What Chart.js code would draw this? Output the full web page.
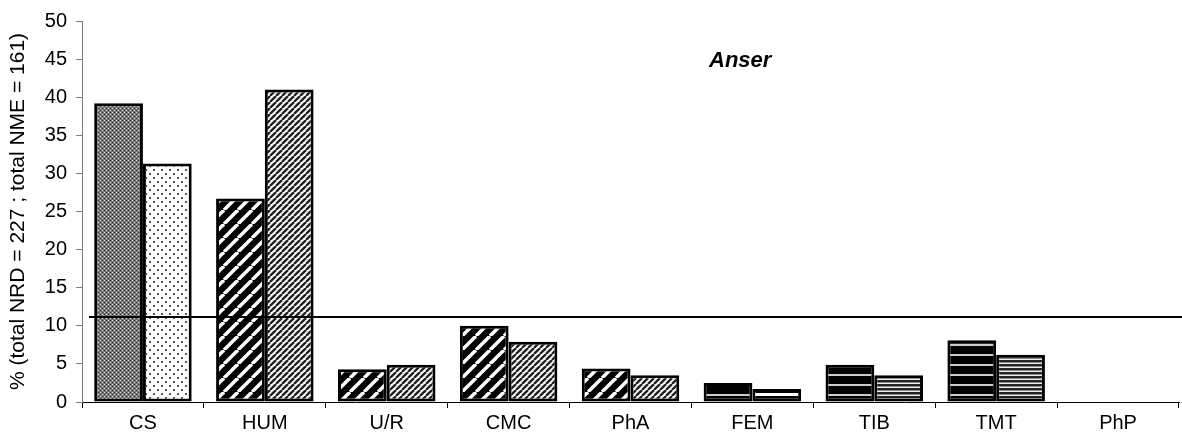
<!DOCTYPE html>
<html>
<head>
<meta charset="utf-8">
<script src="https://cdn.jsdelivr.net/npm/chart.js@4"></script>
<style>
  body { margin: 0; background: #fff; }
  #wrap { width: 1182px; height: 443px; position: relative; }
</style>
</head>
<body>
<div id="wrap"><canvas id="chart"></canvas></div>
<script>
const categories = ["CS", "HUM", "U/R", "CMC", "PhA", "FEM", "TIB", "TMT", "PhP"];
const nrdValues = [39.2, 26.7, 4.3, 10.0, 4.4, 2.5, 4.9, 8.1, 0];
const nmeValues = [31.3, 41.0, 4.9, 7.9, 3.5, 1.7, 3.5, 6.2, 0];
const refLine = 100 / 9;
const yTitle = "% (total NRD = 227 ; total NME = 161)";
const plotTitle = "Anser";

const FONT = "'Liberation Sans', Arial, sans-serif";

// small tiles for the hatch fills
function tile(w, h, draw) {
  const c = document.createElement("canvas");
  c.width = w;
  c.height = h;
  const g = c.getContext("2d");
  draw(g, w, h);
  return g.createPattern(c, "repeat");
}

const grayCheck = tile(4, 4, (g) => {
  g.fillStyle = "#777";
  g.fillRect(0, 0, 4, 4);
  g.fillStyle = "#ddd";
  g.fillRect(0, 0, 1, 1);
  g.fillRect(2, 2, 1, 1);
  g.fillStyle = "#333";
  g.fillRect(2, 0, 1, 1);
  g.fillRect(0, 2, 1, 1);
});

const sparseDots = tile(8, 8, (g) => {
  g.fillStyle = "#fff";
  g.fillRect(0, 0, 8, 8);
  g.fillStyle = "#555";
  g.fillRect(1, 1, 2, 2);
  g.fillRect(5, 5, 2, 2);
});

function diag(size, bg, fg, lw) {
  return tile(size, size, (g, w, h) => {
    g.fillStyle = bg;
    g.fillRect(0, 0, w, h);
    g.strokeStyle = fg;
    g.lineWidth = lw;
    for (const o of [-size, 0, size]) {
      g.beginPath();
      g.moveTo(o, size);
      g.lineTo(o + size, 0);
      g.stroke();
    }
  });
}

const diagWide = diag(14, "#000", "#fff", 3.5);
const diagNarrow = diag(6, "#fff", "#222", 2.4);

const horizBlack = tile(1, 10, (g) => {
  g.fillStyle = "#000";
  g.fillRect(0, 0, 1, 10);
  g.fillStyle = "#ccc";
  g.fillRect(0, 4, 1, 2);
});

const horizBW = tile(1, 6, (g) => {
  g.fillStyle = "#000";
  g.fillRect(0, 0, 1, 3);
  g.fillStyle = "#fff";
  g.fillRect(0, 3, 1, 3);
});

const horizDense = tile(1, 4, (g) => {
  g.fillStyle = "#222";
  g.fillRect(0, 0, 1, 2);
  g.fillStyle = "#888";
  g.fillRect(0, 2, 1, 1);
  g.fillStyle = "#eee";
  g.fillRect(0, 3, 1, 1);
});

const nrdFill = [grayCheck, diagWide, diagWide, diagWide, diagWide, horizBlack, horizBlack, horizBlack, horizBlack];
const nmeFill = [sparseDots, diagNarrow, diagNarrow, diagNarrow, diagNarrow, horizBW, horizDense, horizDense, horizDense];

const refLinePlugin = {
  id: "refLine",
  afterDatasetsDraw(chart) {
    const { ctx, chartArea } = chart;
    const y = Math.round(chart.scales.y.getPixelForValue(refLine));
    ctx.save();
    ctx.strokeStyle = "#000";
    ctx.lineWidth = 2;
    ctx.beginPath();
    ctx.moveTo(chartArea.left + 7, y);
    ctx.lineTo(chart.width, y);
    ctx.stroke();
    ctx.restore();
  }
};

const innerTitle = {
  id: "innerTitle",
  afterDraw(chart) {
    const { ctx, chartArea } = chart;
    ctx.save();
    ctx.font = "italic bold 22px " + FONT;
    ctx.fillStyle = "#000";
    ctx.textAlign = "center";
    ctx.textBaseline = "middle";
    ctx.fillText(plotTitle, chartArea.left + chartArea.width * 0.6, chartArea.top + 40);
    ctx.restore();
  }
};

new Chart(document.getElementById("chart"), {
  type: "bar",
  data: {
    labels: categories,
    datasets: [
      {
        label: "NRD",
        data: nrdValues,
        backgroundColor: nrdFill,
        borderColor: "#000",
        borderWidth: 3,
        borderSkipped: false
      },
      {
        label: "NME",
        data: nmeValues,
        backgroundColor: nmeFill,
        borderColor: "#000",
        borderWidth: 3,
        borderSkipped: false
      }
    ]
  },
  options: {
    responsive: true,
    maintainAspectRatio: false,
    animation: false,
    datasets: {
      bar: { categoryPercentage: 0.8, barPercentage: 1.0 }
    },
    layout: { padding: { top: 20, right: 3, left: 0, bottom: 0 } },
    plugins: {
      legend: { display: false },
      tooltip: { enabled: false }
    },
    scales: {
      x: {
        grid: { drawOnChartArea: false, drawTicks: true, tickLength: 6, color: "#000", offset: true },
        border: { color: "#000", width: 1 },
        ticks: { color: "#000", font: { family: FONT, size: 20 }, padding: 3, maxRotation: 0 },
        afterFit(scale) { scale.height = 41; }
      },
      y: {
        min: 0,
        max: 50,
        ticks: { stepSize: 5, color: "#000", font: { family: FONT, size: 20 }, padding: 9 },
        grid: { drawOnChartArea: false, drawTicks: true, tickLength: 6, color: "#808080" },
        border: { color: "#808080", width: 1 },
        title: {
          display: true,
          text: yTitle,
          color: "#000",
          font: { family: FONT, size: 21 },
          padding: { top: 6, bottom: 0 }
        },
        afterFit(scale) { scale.width = 82; }
      }
    }
  },
  plugins: [refLinePlugin, innerTitle]
});
</script>
</body>
</html>
